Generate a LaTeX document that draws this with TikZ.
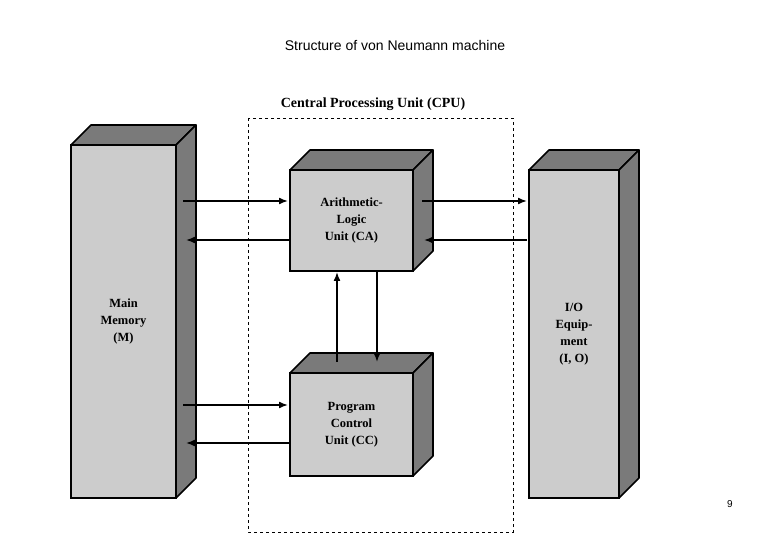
\documentclass[tikz,border=0pt]{standalone}
\usepackage{fontspec}
\setmainfont{Liberation Serif}
\newfontfamily\sansf{Liberation Sans}
\usetikzlibrary{arrows.meta}
\tikzset{
 front/.style={draw,line width=1.6pt,fill=gray!40,align=center,font=\bfseries\fontsize{12.5}{17}\selectfont,inner sep=0pt},
 shade3d/.style={draw,line width=1.6pt,fill=gray!90!white!60!gray,line join=round},
 conn/.style={line width=1.6pt,-{Latex[length=9pt,width=7pt]}}
}
\newcommand\mkcube[6]{% name, x1,y1,x2,y2,text
 \fill[gray!75!black!70] (#2,#3) -- ++(20,-20) -- (#4+20,#3-20) -- (#4+20,#5-20) -- (#4,#5) -- cycle;
 \draw[line width=1.6pt,line join=round,fill=gray!70!black!80] (#2,#3) -- ++(20,-20) -- (#4+20,#3-20) -- (#4,#3) -- cycle;
 \draw[line width=1.6pt,line join=round,fill=gray!70!black!80] (#4,#3) -- (#4+20,#3-20) -- (#4+20,#5-20) -- (#4,#5) -- cycle;
 \node[front,minimum width={#4-#2},minimum height={#5-#3}] (#1) at ({(#2+#4)/2},{(#3+#5)/2}) {#6};}
\begin{document}
\begin{tikzpicture}[x=1pt,y=-1pt]
\useasboundingbox[fill=white] (0,0) rectangle (780,540);
\node[font=\sansf\fontsize{14}{16}\selectfont] (title) at (395,45) {Structure of von Neumann machine};
\draw[dashed,line width=0.8pt] (248,118) rectangle (513,532);
\node[font=\bfseries\fontsize{14}{16}\selectfont] (cpu) at (373,104) {Central Processing Unit (CPU)};
\mkcube{mem}{71}{145}{176}{498}{Main\\Memory\\(M)}
\mkcube{alu}{290}{170}{413}{271}{Arithmetic-\\Logic\\Unit (CA)}
\mkcube{pcu}{290}{373}{413}{476}{Program\\Control\\Unit (CC)}
\mkcube{io}{529}{170}{619}{498}{I/O\\Equip-\\ment\\(I, O)}
\node[font=\sansf\fontsize{10}{12}\selectfont] (pg) at (730,504) {9};
\coordinate (a1) at (183,201); \coordinate (a2) at (288,201);
\coordinate (b1) at (290,240); \coordinate (b2) at (186,240);
\coordinate (c1) at (422,201); \coordinate (c2) at (527,201);
\coordinate (d1) at (527,240); \coordinate (d2) at (424,240);
\coordinate (e1) at (337,362); \coordinate (e2) at (337,272);
\coordinate (f1) at (377,272); \coordinate (f2) at (377,362);
\coordinate (g1) at (183,405); \coordinate (g2) at (288,405);
\coordinate (h1) at (290,443); \coordinate (h2) at (186,443);
\foreach \s/\t in {a1/a2,b1/b2,c1/c2,d1/d2,e1/e2,f1/f2,g1/g2,h1/h2} \draw[conn] (\s) -- (\t);
\end{tikzpicture}
\end{document}
